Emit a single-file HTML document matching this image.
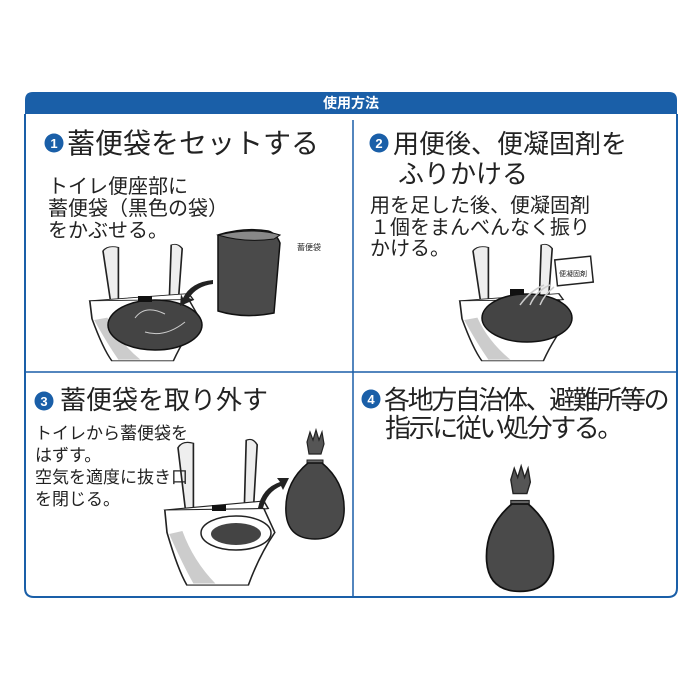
<!DOCTYPE html>
<html><head><meta charset="utf-8"><style>
html,body{margin:0;padding:0;background:#fff;}
svg{display:block;}
text{font-family:"Liberation Sans","Noto Sans CJK JP",sans-serif;fill:#222;}
</style></head><body>
<svg width="700" height="700" viewBox="0 0 700 700" xmlns="http://www.w3.org/2000/svg">
<defs>
<g id="toilet">
 <path d="M0,-95 q4,-10 14,-6 l0,100 l-6,4 z" fill="#eee" stroke="#222" stroke-width="1.5"/>
 <path d="M62,-105 q6,-4 10,6 l-4,100 l-8,0 z" fill="#eee" stroke="#222" stroke-width="1.5"/>
 <path d="M-12,-12 l90,-12 l4,10 l-88,14 z" fill="#fff" stroke="#222" stroke-width="1.5"/>
 <path d="M-12,-12 l2,30 q10,50 18,70 l56,0 q10,-40 24,-70 l-10,-32 z" fill="#fff" stroke="#222" stroke-width="1.5"/>
 <path d="M-8,20 q12,40 22,66 l20,0 q-20,-30 -30,-70 z" fill="#ccc"/>
</g>
<g id="bag">
 <path d="M-8,-48 l3,-10 l3,8 l3,-10 l3,10 l3,-8 l2,12 l-3,10 l-12,0 z" fill="#555" stroke="#222" stroke-width="1.2"/>
 <rect x="-8" y="-30" width="16" height="4" fill="#666" stroke="#222"/>
 <path d="M-7,-27 q-24,20 -22,50 q2,26 29,26 q27,0 29,-26 q2,-30 -22,-50 z" fill="#4a4a4a" stroke="#111" stroke-width="1.5"/>
</g>
</defs>
<path d="M25,114 L25,588 Q25,597 34,597 L668,597 Q677,597 677,588 L677,114" fill="none" stroke="#1a5fa8" stroke-width="2"/>
<path d="M25,114 L25,100 Q25,92 33,92 L669,92 Q677,92 677,100 L677,114 Z" fill="#1a5fa8"/>
<text x="351" y="108" text-anchor="middle" font-size="14" font-weight="bold" style="fill:#fff">使用方法</text>
<line x1="353" y1="120" x2="353" y2="597" stroke="#1a5fa8" stroke-width="1.5"/>
<line x1="25" y1="372" x2="677" y2="372" stroke="#1a5fa8" stroke-width="1.5"/>

<!-- step 1 -->
<use href="#toilet" transform="translate(103 308) scale(1.1 0.6)"/>
<ellipse cx="155" cy="325" rx="47" ry="25" fill="#444" stroke="#111" stroke-width="1.5"/>
<path d="M135,318 q10,-14 30,-4 M145,332 q20,6 40,-10" stroke="#ccc" fill="none"/>
<rect x="138" y="296" width="14" height="6" fill="#111"/>
<path d="M183,298 q8,-16 30,-18 l0,4 q-16,2 -24,14 l5,2 l-14,6 l1,-12 z" fill="#222"/>
<path d="M218,235 q26,-8 50,-4 q8,2 12,12 l-6,70 q-30,6 -56,-2 z" fill="#4a4a4a" stroke="#111" stroke-width="1.5"/>
<path d="M218,235 q26,8 56,4 l6,-4 q-26,-8 -62,0 z" fill="#888" stroke="#111"/>
<text x="297" y="250" font-size="8">蓄便袋</text>
<circle cx="54" cy="143" r="9.5" fill="#1a5fa8"/>
<text x="54" y="148" text-anchor="middle" font-size="13" font-weight="bold" style="fill:#fff">1</text>
<text x="67" y="153" font-size="28">蓄便袋をセットする</text>
<text x="48" y="193" font-size="20">トイレ便座部に</text>
<text x="48" y="215" font-size="20">蓄便袋（黒色の袋）</text>
<text x="48" y="237" font-size="20">をかぶせる。</text>

<!-- step 2 -->
<use href="#toilet" transform="translate(473 308) scale(1.1 0.6)"/>
<ellipse cx="527" cy="318" rx="45" ry="24" fill="#444" stroke="#111" stroke-width="1.5"/>
<rect x="510" y="289" width="14" height="6" fill="#111"/>
<path d="M520,305 q10,-14 24,-20 M530,305 q6,-14 20,-20 M540,305 q4,-10 14,-18" stroke="#ccc" fill="none" stroke-width="1.5"/>
<rect x="556" y="258" width="36" height="26" fill="#fff" stroke="#222" stroke-width="1.5" transform="rotate(-6 574 271)"/>
<text x="559" y="276" font-size="7">便凝固剤</text>
<circle cx="379" cy="143" r="9.5" fill="#1a5fa8"/>
<text x="379" y="148" text-anchor="middle" font-size="13" font-weight="bold" style="fill:#fff">2</text>
<text x="393" y="153" font-size="26">用便後、便凝固剤を</text>
<text x="398" y="183" font-size="26">ふりかける</text>
<text x="370" y="212" font-size="20">用を足した後、便凝固剤</text>
<text x="370" y="234" font-size="20">１個をまんべんなく振り</text>
<text x="370" y="255" font-size="20">かける。</text>

<!-- step 3 -->
<use href="#toilet" transform="translate(178 519) scale(1.1 0.75)"/>
<ellipse cx="236" cy="533" rx="35" ry="17" fill="#fff" stroke="#222" stroke-width="1.5"/>
<ellipse cx="236" cy="534" rx="25" ry="11" fill="#444"/>
<rect x="212" y="505" width="14" height="6" fill="#111"/>
<path d="M258,508 q4,-20 22,-26 l-3,-4 l12,0 l-6,12 l-2,-4 q-14,6 -18,22 z" fill="#222"/>
<use href="#bag" x="315" y="490"/>
<circle cx="44" cy="401" r="9.5" fill="#1a5fa8"/>
<text x="44" y="406" text-anchor="middle" font-size="13" font-weight="bold" style="fill:#fff">3</text>
<text x="60" y="409" font-size="26">蓄便袋を取り外す</text>
<text x="35" y="439" font-size="17">トイレから蓄便袋を</text>
<text x="35" y="461" font-size="17">はずす。</text>
<text x="35" y="483" font-size="17">空気を適度に抜き口</text>
<text x="35" y="505" font-size="17">を閉じる。</text>

<!-- step 4 -->
<circle cx="371" cy="399" r="9.5" fill="#1a5fa8"/>
<text x="371" y="404" text-anchor="middle" font-size="13" font-weight="bold" style="fill:#fff">4</text>
<text x="384" y="409" font-size="26" letter-spacing="-2.4">各地方自治体、避難所等の</text>
<text x="385" y="437" font-size="26" letter-spacing="-2.4">指示に従い処分する。</text>
<use href="#bag" transform="translate(520 535) scale(1.15)"/>
</svg>
</body></html>
